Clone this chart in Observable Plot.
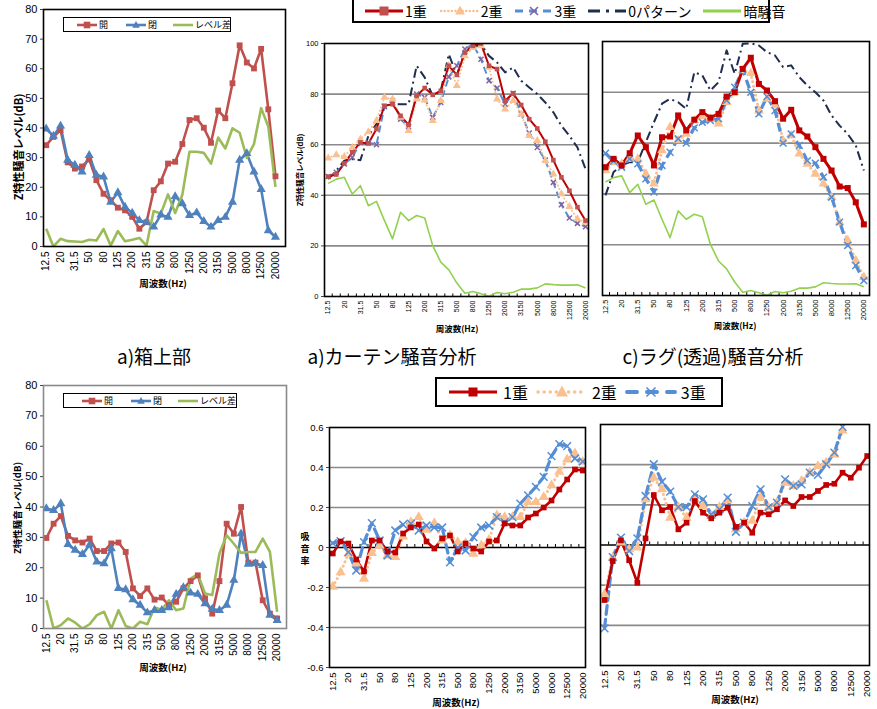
<!DOCTYPE html>
<html><head><meta charset="utf-8">
<script src="https://cdn.jsdelivr.net/npm/d3@7"></script>
<script src="https://cdn.jsdelivr.net/npm/@observablehq/plot@0.6"></script>
<style>
body{margin:0;background:#fff;}
#root{position:relative;width:877px;height:709px;overflow:hidden;font-family:"Liberation Sans",Arial,"Noto Sans CJK JP",sans-serif;}
.txt{position:absolute;white-space:nowrap;line-height:1;color:#000;}
.leg{position:absolute;border:1.6px solid #000;background:#fff;box-sizing:border-box;display:flex;align-items:center;flex-wrap:nowrap;overflow:visible;}
.leg .it{display:flex;align-items:center;flex-shrink:0;white-space:nowrap;}
.leg svg{display:block;overflow:visible;flex-shrink:0;}
.leg span{white-space:nowrap;}
</style></head><body><div id="root"></div>
<script>
// ---------- data ----------
const bands = ["12.5","16","20","25","31.5","40","50","63","80","100","125","160","200","250","315","400","500","630","800","1000","1250","1600","2000","2500","3150","4000","5000","6300","8000","10000","12500","16000","20000"];

// a) 箱上部 (top-left)
const boxTopOpen   = [34.2,37,39.3,28.4,26.3,27,29.4,22.4,17.8,15.6,13.1,12.2,10,6,8.2,19,22,28,28.6,34.6,42.7,43.3,40.1,35,45.9,43.3,55.1,67.9,62.1,60.1,66.7,46.3,23.7];
const boxTopClosed = [39.7,37.3,40.7,29.2,27.5,25.2,30.8,24.1,23.5,15,18.2,13.3,11.3,8.8,8.2,6.6,10.7,9.9,16.9,14.5,10.5,11.4,8.5,6.6,8.8,9.9,15,29.2,31.4,25.2,19.3,5.4,3.2];
const boxTopDiff   = [6,0,2.6,1.8,1.7,1.5,2.3,2,5.9,0.3,5.2,1.8,2.3,2.9,0.3,12,11.1,17.6,11.3,17.5,32,32,31.6,28,36.8,33.1,39.9,38.4,29.9,34.6,46.7,40.5,20.1];

// bottom-left
const boxBotOpen   = [29.8,34.5,37,30.5,29,28.3,29.6,25.5,25.5,28,28.3,25.2,13.2,10.7,13.2,9.5,10.2,7.7,8.8,13.2,15.6,17.5,9.9,4.9,15.6,34.5,31.2,40,21.7,21.7,9.3,4.9,3.3];
const boxBotClosed = [39.5,38.9,41.1,27.7,25.8,24.4,27.6,21.9,21.4,26.3,13.2,12.8,9.5,7.7,5.2,6,6,6.9,11.3,13.5,11.7,11.3,8.2,6.4,6,7.7,15.9,31.2,21.2,21.4,20.8,4.4,2.7];
const boxBotDiff   = [9.3,0,1.1,3.3,1.9,0,1.4,4.4,5.5,0,6,0.8,0,2.2,1.4,6.9,6.2,9.3,6,6.6,16.4,17.9,11.5,11,24.7,30.7,27.9,24.9,25.2,25.2,29.6,25.2,5.5];

// a) カーテン騒音分析 (top-middle)
const curtain1 = [47.4,48.2,52.6,57,60.9,60.5,66.2,75.4,76,71.4,67.9,79.3,82.4,79.7,81.3,91.2,87.6,96.4,99.1,100,91.2,89.9,77.4,80.3,75.7,70.1,66.4,61.2,53.9,47.1,41.8,35.3,30];
const curtain2 = [54.7,56,55.3,58.9,62.2,65.1,69.5,78.7,78,70.8,65.5,78,77.6,69.5,77.4,91.2,83.3,95.1,98.4,99,90.5,78,74,77.4,72.1,63.6,61.6,53.7,48.4,40.5,35.5,30.7,29.3];
const curtain3 = [47.4,49.1,52.4,55,60.9,60.9,60,75,77.4,70.1,67.1,80,78.7,70.8,76.7,86.8,91.2,97.8,99.7,93.8,85.3,82.4,76,80.3,72.1,64.6,58.9,53.9,45.1,36.3,31,28.9,27.6];
const curtain0 = [46.4,49.7,53.7,54.3,53.9,63.5,68.2,75.4,76,76,76,91.2,86.6,79.3,81.3,95.8,87.3,97.1,98.4,99.7,95.1,92.5,88.6,90.5,85.3,82.6,80,76.7,72.8,67.5,63.5,58.9,50.4];
const ambient  = [44.7,46.4,47.1,40.5,43.8,35.9,37.6,30,22.8,33.3,30,32,31,20.1,13.6,10.5,5.3,1.3,2,1.1,0.1,1.6,1.1,1.7,2.9,2.9,3.4,5,4.7,4.5,4.5,4.6,3.4];

// c) ラグ(透過)騒音分析 (top-right)
const rug1 = [50.5,53.8,51.2,56,63,58.4,51.2,62.3,62.6,70.9,65,69.2,72.2,70,71.5,78.3,80,89.2,93.6,83.3,80.7,76.5,69.6,73.1,65,62.6,58.4,53.8,49.2,42.9,42.3,36.7,28];
const rug2 = [49.2,52.5,51.8,53.8,53.8,47.9,44,57.1,66.3,61,63.6,68.9,70.5,69.6,67.6,76.1,80,88.6,87.5,72.8,77.4,74.8,61,63,55.8,51.8,47.9,44,38.7,28.9,21.7,13.8,7.2];
const rug3 = [56,52.9,50.5,53.8,51.8,45.9,40.7,51.2,56.4,61.7,60,66,68.2,68.9,69.6,76.8,82,88.8,80,71.5,78.3,72.8,60,63.6,59.1,53.1,52.1,46.6,38.7,28.9,19.7,11.8,5.9];
const rug0 = [39.4,48.6,51.2,52.5,52.5,60.4,68.2,75.5,77.4,76.1,73.5,87.9,86.6,80.7,84,96.5,87.3,99.1,99.3,98.4,95.8,94.5,89.9,90.6,86,82.7,80,76.8,70.9,66.9,63.6,59.1,49.2];

// bottom-middle (吸音率)
const absA1 = [-0.03,0.03,0.02,-0.06,-0.12,0.035,0.035,-0.02,-0.025,0.07,0.10,0.115,0.03,-0.005,0.045,0.06,-0.02,0.02,-0.005,-0.02,0.03,0.035,0.12,0.11,0.11,0.15,0.17,0.20,0.235,0.29,0.34,0.39,0.385];
const absA2 = [-0.196,-0.124,-0.032,-0.08,-0.157,-0.028,0.01,-0.04,-0.048,0.055,0.127,0.152,0.089,0.122,0.035,0.06,0.027,0.022,-0.032,0.01,0.038,0.16,0.152,0.152,0.152,0.227,0.227,0.252,0.311,0.378,0.44,0.47,0.428];
const absA3 = [0.022,0.032,-0.023,-0.115,0.027,0.122,0.035,-0.04,0.085,0.115,0.119,0.085,0.11,0.10,0.10,-0.074,0,-0.015,0.052,0.10,0.11,0.152,0.127,0.152,0.219,0.261,0.303,0.353,0.457,0.517,0.507,0.445,0.43];

// bottom-right
const absB1 = [-0.274,-0.08,0.023,-0.076,-0.188,0.033,0.249,0.173,0.189,0.078,0.111,0.219,0.161,0.133,0.161,0.186,0.09,0.111,0.061,0.161,0.153,0.178,0.222,0.194,0.239,0.239,0.269,0.299,0.305,0.36,0.335,0.385,0.443];
const absB2 = [-0.246,-0.063,0.012,-0.022,-0.013,0.227,0.335,0.277,0.136,0.189,0.136,0.227,0.194,0.144,0.189,0.222,0.078,0.111,0.12,0.236,0.186,0.211,0.31,0.294,0.319,0.36,0.393,0.41,0.451,0.57,null,null,null];
const absB3 = [-0.415,-0.06,0.037,-0.03,0.033,0.244,0.402,0.315,0.266,0.189,0.189,0.252,0.227,0.153,0.178,0.236,0.066,0.111,0.194,0.277,0.189,0.211,0.327,0.294,0.302,0.36,0.349,0.402,0.46,0.588,null,null,null];

const yTicksLevel = [0,10,20,30,40,50,60,70,80];
const yTicks100 = [0,20,40,60,80,100];
const yTicksAbs = [-0.6,-0.4,-0.2,0,0.2,0.4,0.6];

// ---------- styles ----------
const C = {
  red:"#C0504D", blue:"#4F81BD", green:"#9BBB59",
  dred:"#C00000", peach:"#FAC090", dblue:"#558ED5", purple:"#8064A2", navy:"#1F2D4E", lgreen:"#92D050"
};
const root = document.getElementById("root");
const rows = vals => vals.map((v,i)=>({i, v}));
const tickIdx = d3.range(0, bands.length, 2);
const bounds = d3.range(0.5, bands.length - 1, 1);

function panel(cfg){
  const marks = [];
  if (cfg.grid) marks.push(Plot.ruleY(cfg.grid, {stroke:"#8a8a8a", strokeWidth:1.6}));
  if (cfg.zero) marks.push(Plot.ruleY([0], {stroke:"#000", strokeWidth:1.6}));
  if (cfg.catTicks) marks.push(Plot.ruleX(bounds, {y1: cfg.catTicks[0], y2: cfg.catTicks[1], stroke:"#000", strokeWidth:1}));
  for (const s of cfg.series){
    const d = rows(s.values);
    marks.push(Plot.line(d, {x:"i", y:"v", stroke:s.color, strokeWidth:s.width, strokeDasharray:s.dash, strokeLinecap:s.cap || "butt", clip:true}));
  }
  for (const s of cfg.series){
    if (!s.symbol) continue;
    const d = rows(s.values).filter(r => r.v != null);
    const o = {x:"i", y:"v", symbol:s.symbol, r:s.r, clip:true};
    if (s.symbol === "times") { o.stroke = s.mcolor || s.color; o.strokeWidth = s.mw || 1.5; o.fill = "none"; }
    else { o.fill = s.mcolor || s.color; o.stroke = "none"; }
    marks.push(Plot.dot(d, o));
  }
  marks.push(Plot.frame({stroke: cfg.frame || "#000", strokeWidth: cfg.frameWidth || 1.6}));
  if (cfg.yTicks) marks.push(Plot.axisY({ticks: cfg.yTicks, tickFormat: cfg.yFmt || (d=>String(d)), tickSize: 3, tickPadding: cfg.yPad || 3, fontSize: cfg.yFont, label:null, stroke:"#444"}));
  marks.push(Plot.axisX({ticks: tickIdx, tickFormat: i => bands[i], tickRotate: -90, tickSize: 0, tickPadding: cfg.xPad || 5, fontSize: cfg.xFont, label:null}));
  const svg = Plot.plot({
    width: cfg.w, height: cfg.h,
    marginLeft: cfg.ml, marginRight: cfg.mr, marginTop: cfg.mt, marginBottom: cfg.mb,
    x: {domain: cfg.xd},
    y: {domain: cfg.yd, axis: cfg.yTicks ? undefined : null},
    style: {fontFamily: '"Liberation Sans", Arial, sans-serif', color:"#000", background:"transparent", overflow:"visible"},
    marks
  });
  svg.style.position = "absolute";
  svg.style.left = cfg.left + "px";
  svg.style.top = cfg.top + "px";
  root.appendChild(svg);
}

function text(str, x, y, o = {}){
  const el = document.createElement("div");
  el.className = "txt";
  el.textContent = str;
  el.style.fontSize = (o.size || 10) + "px";
  el.style.fontWeight = o.bold ? "bold" : "normal";
  el.style.fontFamily = o.font || '"Noto Sans CJK JP", "Liberation Sans", sans-serif';
  el.style.left = x + "px"; el.style.top = y + "px";
  let tr = "translate(-50%,-50%)";
  if (o.rotate) tr += ` rotate(${o.rotate}deg)`;
  el.style.transform = tr;
  root.appendChild(el);
}

function swatch(s, w, h){
  const cy = h/2, cx = w/2;
  let m = "";
  const r = s.lr || 3.5;
  if (s.symbol === "square") m = `<rect x="${cx-r}" y="${cy-r}" width="${2*r}" height="${2*r}" fill="${s.mcolor||s.color}"/>`;
  else if (s.symbol === "triangle") m = `<path d="M${cx},${cy-r*1.2}L${cx+r*1.1},${cy+r*0.8}L${cx-r*1.1},${cy+r*0.8}Z" fill="${s.mcolor||s.color}"/>`;
  else if (s.symbol === "times") m = `<path d="M${cx-r},${cy-r}L${cx+r},${cy+r}M${cx-r},${cy+r}L${cx+r},${cy-r}" stroke="${s.mcolor||s.color}" stroke-width="${s.mw||1.6}"/>`;
  return `<svg width="${w}" height="${h}"><line x1="0" x2="${w}" y1="${cy}" y2="${cy}" stroke="${s.color}" stroke-width="${s.lw||s.width}" ${s.ldash||s.dash ? `stroke-dasharray="${s.ldash||s.dash}"` : ""} stroke-linecap="${s.cap||'butt'}"/>${m}</svg>`;
}

function legend(items, box, o){
  const el = document.createElement("div");
  el.className = "leg";
  Object.assign(el.style, {left: box[0]+"px", top: box[1]+"px", width: box[2]+"px", height: box[3]+"px", paddingLeft: o.pad+"px", borderWidth: o.bw+"px"});
  items.forEach((s, k) => {
    const it = document.createElement("div");
    it.className = "it";
    it.style.marginRight = o.gap[k] + "px";
    it.innerHTML = swatch(s, o.sw, o.sh) + `<span style="font-family:'Noto Sans CJK JP','Liberation Sans',sans-serif;font-size:${o.size}px;margin-left:${o.tgap}px;line-height:1">${s.name}</span>`;
    el.appendChild(it);
  });
  root.appendChild(el);
}

// ---------- series definitions ----------
const sOpenT  = {name:"開", values: boxTopOpen, color:C.red, width:2.6, symbol:"square", r:3.3, lr:3.3};
const sCloseT = {name:"閉", values: boxTopClosed, color:C.blue, width:2.6, symbol:"triangle", r:3.4, lr:3.4};
const sDiffT  = {name:"レベル差", values: boxTopDiff, color:C.green, width:2.6};
const sOpenB  = {...sOpenT, values: boxBotOpen};
const sCloseB = {...sCloseT, values: boxBotClosed};
const sDiffB  = {...sDiffT, values: boxBotDiff};

const c1 = {name:"1重", values: curtain1, color:C.dred, width:2, symbol:"square", r:2.6, mcolor:C.red, lr:4.5, lw:3};
const c2 = {name:"2重", values: curtain2, color:C.peach, width:2, dash:"0.1,3.5", cap:"round", symbol:"triangle", r:3, lr:4.5, lw:2.5};
const c3 = {name:"3重", values: curtain3, color:C.dblue, width:2, dash:"7,4", symbol:"times", r:2.4, mcolor:C.purple, lr:4, lw:3, ldash:"8,6"};
const c0 = {name:"0パターン", values: curtain0, color:C.navy, width:2, dash:"9,4,2,4", lw:3, ldash:"12,6,3,6"};
const cA = {name:"暗騒音", values: ambient, color:C.lgreen, width:1.6, lw:3};

const r1 = {values: rug1, color:C.dred, width:3, symbol:"square", r:3.4};
const r2 = {values: rug2, color:C.peach, width:3, dash:"0.1,4.5", cap:"round", symbol:"triangle", r:3.6};
const r3 = {values: rug3, color:C.dblue, width:3.2, dash:"9,5", symbol:"times", r:3.2};
const r0 = {values: rug0, color:C.navy, width:2, dash:"9,4,2,4"};
const rA = {values: ambient, color:C.lgreen, width:1.6};

const a1 = {name:"1重", values: absA1, color:C.dred, width:2.6, symbol:"square", r:3.2, lr:4.5, lw:3};
const a2 = {name:"2重", values: absA2, color:C.peach, width:3, dash:"0.1,4.5", cap:"round", symbol:"triangle", r:3.8, lr:5.5, lw:3.5, ldash:"0.1,6"};
const a3 = {name:"3重", values: absA3, color:C.dblue, width:3.2, dash:"9,5", symbol:"times", r:3.6, lr:4.5, lw:4, ldash:"10,10", cap:"round"};
const b1 = {...a1, values: absB1};
const b2 = {...a2, values: absB2};
const b3 = {...a3, values: absB3};

// ---------- panels ----------
panel({left:0, top:0, w:290, h:300, ml:43, mr:5, mt:9, mb:54, xd:[-0.38, 33.4], yd:[0,80],
  yTicks:yTicksLevel, yFont:11, xFont:10, series:[sOpenT, sCloseT, sDiffT]});
panel({left:0, top:375, w:290, h:300, ml:43, mr:4, mt:10, mb:47, xd:[-0.4, 33.3], yd:[0,80], frame:"#8a8a8a",
  yTicks:yTicksLevel, yFont:11, xFont:10, series:[sOpenB, sCloseB, sDiffB]});
panel({left:290, top:30, w:300, h:305, ml:34, mr:2, mt:13, mb:39, xd:[-0.46, 32.37], yd:[0,100],
  grid:[20,40,60,80], yTicks:yTicks100, yFont:7.5, xFont:7, xPad:4, catTicks:[0,1],
  series:[cA, c0, c3, c2, c1]});
panel({left:595, top:30, w:282, h:300, ml:7, mr:8, mt:11, mb:35, xd:[-0.37, 32.7], yd:[0,100],
  grid:[20,40,60,80], xFont:7.5, xPad:4, catTicks:[0,1.2],
  series:[rA, r0, r2, r3, r1]});
panel({left:295, top:415, w:295, h:294, ml:34, mr:5, mt:12, mb:42, xd:[-0.42, 32.35], yd:[-0.6,0.6],
  grid:[-0.4,-0.2,0.2,0.4], zero:true, yTicks:yTicksAbs, yFmt:d=> d===0 ? "0" : d.toFixed(1), yFont:9.5, xFont:9.5, catTicks:[0,0.015],
  series:[a2, a3, a1]});
panel({left:595, top:415, w:282, h:294, ml:5, mr:8, mt:9, mb:44, xd:[-0.49, 32.28], yd:[-0.6,0.6],
  grid:[-0.4,-0.2,0.2,0.4], zero:true, xFont:9.5, catTicks:[0,0.015],
  series:[b2, b3, b1]});

// ---------- axis titles ----------
text("Z特性騒音レベル(dB)", 18, 147, {size:11, bold:true, rotate:-90});
text("周波数(Hz)", 163, 284, {size:9.5, bold:true});
text("Z特性騒音レベル(dB)", 18, 508, {size:9.5, bold:true, rotate:-90});
text("周波数(Hz)", 163, 668, {size:9.5, bold:true});
text("Z特性騒音レベル(dB)", 300, 170, {size:7.5, bold:true, rotate:-90});
text("周波数(Hz)", 457, 328, {size:8.5, bold:true});
text("周波数(Hz)", 735, 325, {size:8.5, bold:true});
// 吸音率: characters stacked upright
["吸","音","率"].forEach((ch, k) => text(ch, 305, 536 + k * 12, {size:9, bold:true}));
text("周波数(Hz)", 456, 703, {size:9.5, bold:true});
text("周波数(Hz)", 735, 700, {size:9.5, bold:true});

// ---------- captions ----------
text("a)箱上部", 154, 355, {size:19});
text("a)カーテン騒音分析", 392, 355, {size:19});
text("c)ラグ(透過)騒音分析", 713, 355, {size:19});

// ---------- legends ----------
legend([sOpenT, sCloseT, sDiffT], [63,17,168,15], {pad:13, bw:1.6, sw:20, sh:12, size:9, tgap:2, gap:[18,16,0]});
legend([sOpenB, sCloseB, sDiffB], [63,393,174,15], {pad:18, bw:1.6, sw:20, sh:12, size:9, tgap:2, gap:[18,16,0]});
legend([c1, c2, c3, c0, cA], [352,-2,418,25], {pad:11, bw:2, sw:38, sh:14, size:14, tgap:2, gap:[14,12,12,12,0]});
legend([a1, a2, a3], [435,377,288,30], {pad:12, bw:2, sw:48, sh:16, size:16, tgap:6, gap:[10,10,0]});
</script></body></html>
